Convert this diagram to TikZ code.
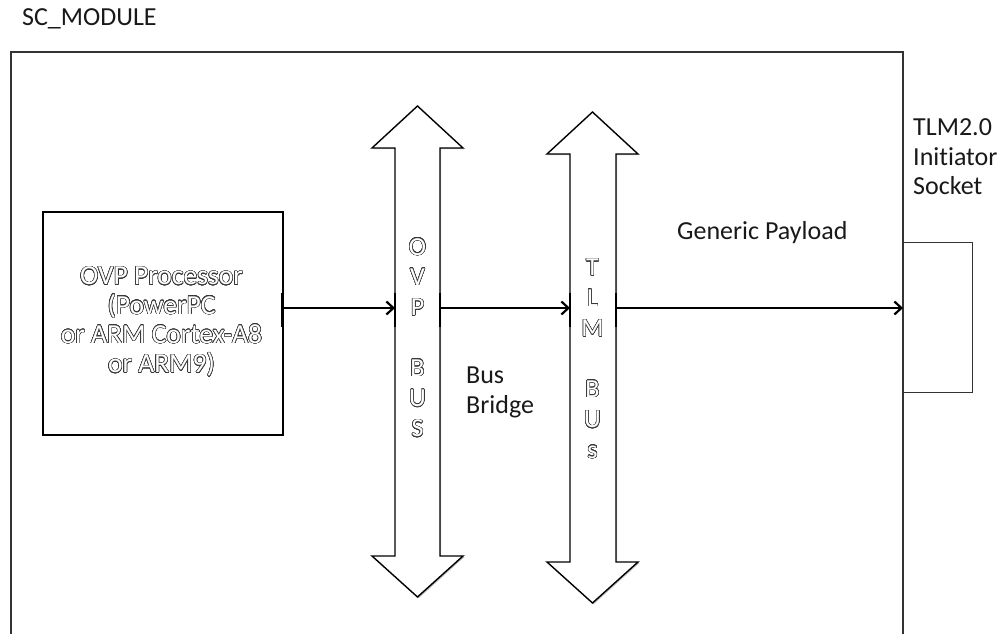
\documentclass[tikz,border=0pt]{standalone}
\usepackage{fontspec}
\setmainfont{Carlito}[Ligatures=NoCommon]
\usepackage{contour}
\contourlength{0.55pt}
\contournumber{24}
\usetikzlibrary{arrows.meta,shadows}
% hollow (outlined) lettering
\newcommand{\hollow}[1]{\contour{black!78}{\textcolor{white}{#1}}}

\begin{document}
\begin{tikzpicture}[x=1pt,y=-1pt,
  txt/.style={font=\fontsize{26}{29.5}\selectfont, inner sep=0pt, text=black!90},
  frame/.style={draw=black!80, line width=1.5pt},
  soft/.style={drop shadow={shadow xshift=1.2pt, shadow yshift=-1.2pt, opacity=0.25, fill=black}},
  box/.style={draw=black, line width=1.6pt, fill=white, soft, inner sep=0pt},
  busarrow/.style={draw=black, line width=1.4pt, fill=white, line join=miter, soft},
  port/.style={line width=2.6pt, black},
  conn/.style={line width=2.2pt, black, -{Straight Barb[length=7pt,width=13pt]}},
  busletter/.style={txt, anchor=base}]

\useasboundingbox (0,0) rectangle (1007,634);

% module frame, running off the bottom
\draw[frame] (11,634) -- (11,52) -- (903,52) -- (903,634);
\node[txt, anchor=base west] (title) at (22,26) {SC\_MODULE};

% processor block
\node[box, minimum width=240pt, minimum height=223pt, anchor=north west] (proc) at (42,211) {};
\node[txt, align=center, font=\fontsize{27.5}{29.3}\selectfont] (proctxt) at (161.5,322)
  {\hollow{OVP Processor}\\ \hollow{(PowerPC}\\ \hollow{or ARM Cortex-A8}\\ \hollow{or ARM9)}};

% the two bidirectional buses
\draw[busarrow] (417.5,106) -- (463,148) -- (440,148) -- (440,556) -- (463,556)
  -- (417.5,597) -- (372,556) -- (395,556) -- (395,148) -- (372,148) -- cycle;
\draw[busarrow] (592.5,112) -- (638,154) -- (616,154) -- (616,562) -- (638,562)
  -- (592.5,603) -- (547,562) -- (570,562) -- (570,154) -- (547,154) -- cycle;

\foreach \ch/\k in {O/0,V/1,P/2,B/4,U/5,S/6}
  \node[busletter] (ovp\k) at (417.5,255+30.3*\k) {\hollow{\ch}};
\foreach \ch/\k in {T/0,L/1,M/2,B/4,U/5,s/6}
  \node[busletter] (tlm\k) at (592.5,275.8+30.4*\k) {\hollow{\ch}};

% TLM initiator socket
\node[draw=black!80, line width=1.2pt, minimum width=69pt, minimum height=150pt,
      inner sep=0pt, anchor=north west] (socket) at (903,242) {};

% port positions on the blocks
\coordinate (procout) at (282,308);
\coordinate (ovpin)   at (395,308);
\coordinate (ovpout)  at (440,308);
\coordinate (tlmin)   at (570,308);
\coordinate (tlmout)  at (616,308);
\foreach \p in {procout,ovpin,ovpout,tlmin,tlmout}
  \draw[port] ([yshift=15pt]\p) -- ([yshift=-19pt]\p);

% transaction flow
\draw[conn] (procout) -- (ovpin);
\draw[conn] (ovpout) -- (tlmin);
\draw[conn] (tlmout) -- (tlmout -| socket.west);

% labels
\node[txt, anchor=base west] (gp) at (677,239) {Generic Payload};
\node[txt, anchor=base west] (bb1) at (466,383) {Bus};
\node[txt, anchor=base west] (bb2) at (466,413) {Bridge};
\node[txt, anchor=base west] (sk1) at (913,135) {TLM2.0};
\node[txt, anchor=base west] (sk2) at (913,165) {Initiator};
\node[txt, anchor=base west] (sk3) at (913,194) {Socket};
\end{tikzpicture}
\end{document}
